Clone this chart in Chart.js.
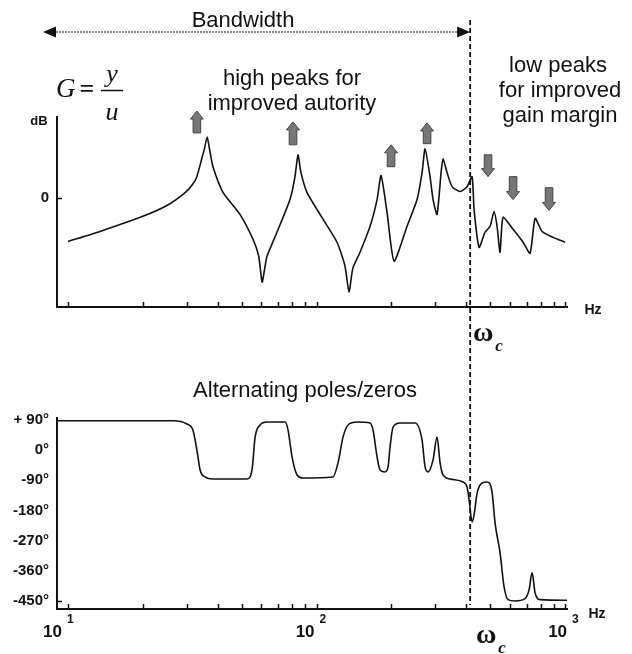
<!DOCTYPE html>
<html>
<head>
<meta charset="utf-8">
<script src="https://cdn.jsdelivr.net/npm/chart.js@4.4.1/dist/chart.umd.min.js"></script>
<style>
  html, body { margin: 0; padding: 0; background: #fff; }
  #wrap { position: relative; width: 632px; height: 654px; }
  #wrap canvas { position: absolute; left: 0; }
</style>
</head>
<body>
<div id="wrap">
  <canvas id="mag" width="632" height="372" style="top:0"></canvas>
  <canvas id="phase" width="632" height="282" style="top:372px"></canvas>
</div>
<script>
/* Bode plot: magnitude + phase of G = y/u (log Hz axis) */

// magnitude curve (Hz, dB)
const magFreq = [10, 13.45, 20, 25, 29.6, 31.8, 33, 34.6, 35.3, 36.3, 37.2, 38.3, 42.1, 49.2, 55.5, 58.5, 60.4, 62, 63.2, 69.3, 78.2, 81.9, 84.2, 86.5, 91.6,
  103.3, 120.9, 130, 135.1, 140, 149.6, 164.2, 175.2, 181.8, 192.2, 205.1, 231.3, 253.8, 265.8, 273.3, 286.2, 294.3, 305.4, 317,
  322.9, 335.1, 351, 378, 403.3, 422.5, 430.4, 450.8, 476.6, 499.2, 517.9, 532.6, 547.5, 562.9, 617.6, 677.7, 723.3,
  757.5, 808.2, 894.6, 1000];
const magDb = [-16.1, -12.4, -6.8, -2.8, 2.0, 5.2, 7.9, 14.9, 17.8, 22.6, 17.5, 11.6, 2.0, -6.1, -15.3, -21.5, -31.2, -25.5, -21.6, -12.7, -0.6, 7.9, 16.0, 9.5, 2.0,
  -6.1, -16.4, -25, -34.8, -26, -20.1, -10.5, -0.6, 8.3, -5.4, -23.4, -10.5, -0.6, 9.4, 18.2, 7.9, -0.6, -6.1, 9.4,
  14.5, 9.4, 4.2, 2.4, 4.2, 7.9, -4.3, -18.3, -12.7, -10.5, -5.0, -10.5, -20.1, -7.2, -11.6, -16.4, -20.5,
  -7.6, -12.4, -14.6, -16.4];

// phase curve (Hz, degrees)
const phaseFreq = [9.03, 26.5, 30.1, 31.8, 33.0, 34.0, 35.6, 38.3, 52.5, 55.0, 56.6, 59.3, 63.2, 74.7, 76.8, 79.7, 83.5, 88.2,
  116.5, 122.0, 127.8, 133.9, 145.6, 164.2, 168.8, 175.2, 180.1, 188.7, 194.0, 197.6, 203.2, 216.8, 249.1, 265.8,
  273.3, 281.0, 294.3, 305.4, 314.1, 322.9, 344.5, 388.6, 403.3, 411.0, 422.5, 430.4, 442.6, 463.6, 485.5, 508.4,
  522.7, 547.5, 568.3, 589.6, 629.3, 690.2, 716.4, 736.7, 757.5, 793.4, 1018];
const phaseDeg = [88, 88, 78, 60, 1, -59, -80, -86, -86, -59, 39, 75, 84, 84, 60, -20, -74, -83,
  -80, -38, 39, 75, 84, 81, 60, -20, -59, -65, -50, 10, 69, 81, 81, 30,
  -50, -65, -29, 39, -38, -74, -86, -95, -110, -148, -214, -193, -128, -98, -95, -125,
  -217, -306, -408, -446, -450, -443, -417, -366, -426, -446, -448];

// axes
const freqMin = 9.03, freqMax = 1018;
const xTickValues = [10, 20, 30, 40, 50, 60, 70, 80, 90, 100, 200, 300, 400, 500, 600, 700, 800, 900, 1000];
const decadeValues = [10, 100, 1000];
const decadeExps = ['1', '2', '3'];
const magTicks = [0];
const phaseTicks = [90, 0, -90, -180, -270, -360, -450];
const omegaC = 415;          // crossover, Hz
const bandwidthFrom = 7.93;  // left end of the bandwidth arrow, Hz

// block arrows on the magnitude plot (Hz, tail dB, tip dB)
const arrowFreq = [33.0, 80.4, 199.4, 278.4, 489.8, 617.6, 862];
const arrowFrom = [24.1, 19.7, 11.6, 20.1, 16.0, 7.9, 3.8];
const arrowTo = [32.2, 28.2, 19.7, 27.8, 7.9, -0.6, -4.6];

const ink = '#111';
const sans = "'Liberation Sans', Arial, sans-serif";
const serif = "'Liberation Serif', 'Times New Roman', serif";

function xScale() {
  return {
    type: 'logarithmic', min: freqMin, max: freqMax,
    grid: { display: false, drawTicks: false },
    border: { display: true, color: ink, width: 2 },
    ticks: { display: false },
    afterBuildTicks: (s) => { s.ticks = xTickValues.map((v) => ({ value: v })); },
  };
}

function yScale(min, max, values, fmt) {
  return {
    min, max,
    grid: { display: false, drawTicks: false },
    border: { display: true, color: ink, width: 2 },
    ticks: { color: ink, padding: 8, font: { family: sans, size: 15, weight: 'bold' }, callback: fmt },
    afterBuildTicks: (s) => { s.ticks = values.map((v) => ({ value: v })); },
    afterFit: (s) => { s.width = 57; },
  };
}

// short tick marks pointing into the plot
function innerTicks(yVals) {
  return {
    id: 'innerTicks',
    afterDraw(chart) {
      const { ctx, chartArea: a, scales: { x, y } } = chart;
      ctx.save();
      ctx.strokeStyle = ink; ctx.lineWidth = 1.5;
      ctx.beginPath();
      x.ticks.forEach((t) => {
        const px = Math.round(x.getPixelForValue(t.value)) + 0.5;
        ctx.moveTo(px, a.bottom); ctx.lineTo(px, a.bottom - 5);
      });
      yVals.forEach((v) => {
        const py = Math.round(y.getPixelForValue(v)) + 0.5;
        ctx.moveTo(a.left, py); ctx.lineTo(a.left + 5, py);
      });
      ctx.stroke();
      ctx.restore();
    },
  };
}

function dashedOmega(ctx, x, y0, y1) {
  ctx.save();
  ctx.strokeStyle = ink; ctx.lineWidth = 1.8; ctx.setLineDash([5, 3]);
  ctx.beginPath(); ctx.moveTo(x, y0); ctx.lineTo(x, y1); ctx.stroke();
  ctx.restore();
}

function omegaLabel(ctx, x, base) {
  ctx.save();
  ctx.fillStyle = ink; ctx.textBaseline = 'alphabetic';
  ctx.font = `bold 28px ${serif}`; ctx.textAlign = 'center';
  ctx.fillText('ω', x, base);
  ctx.font = `italic bold 17px ${serif}`; ctx.textAlign = 'left';
  ctx.fillText('c', x + 12, base + 10);
  ctx.restore();
}

function text(ctx, s, x, y, font, align) {
  ctx.font = font; ctx.textAlign = align || 'center'; ctx.textBaseline = 'alphabetic';
  ctx.fillText(s, x, y);
}

function blockArrow(ctx, x, yTail, yTip) {
  const dir = yTip < yTail ? -1 : 1;
  const head = 8, hw = 6.5, sw = 3.8;
  const yNeck = yTip - dir * head;
  ctx.beginPath();
  ctx.moveTo(x - sw, yTail); ctx.lineTo(x - sw, yNeck); ctx.lineTo(x - hw, yNeck);
  ctx.lineTo(x, yTip); ctx.lineTo(x + hw, yNeck); ctx.lineTo(x + sw, yNeck); ctx.lineTo(x + sw, yTail);
  ctx.closePath();
  ctx.fillStyle = '#777'; ctx.fill();
  ctx.strokeStyle = '#444'; ctx.lineWidth = 1; ctx.stroke();
}

const magNotes = {
  id: 'magNotes',
  afterDraw(chart) {
    const { ctx, scales: { x, y } } = chart;
    const xc = x.getPixelForValue(omegaC);
    dashedOmega(ctx, xc, 20, chart.height);

    // bandwidth arrow
    const xl = x.getPixelForValue(bandwidthFrom), yb = 32;
    ctx.save();
    ctx.strokeStyle = ink; ctx.lineWidth = 1.2; ctx.setLineDash([2, 1]);
    ctx.beginPath(); ctx.moveTo(xl + 10, yb); ctx.lineTo(xc - 10, yb); ctx.stroke();
    ctx.setLineDash([]); ctx.fillStyle = ink;
    ctx.beginPath(); ctx.moveTo(xl, yb); ctx.lineTo(xl + 13, yb - 5.5); ctx.lineTo(xl + 13, yb + 5.5); ctx.closePath(); ctx.fill();
    ctx.beginPath(); ctx.moveTo(xc, yb); ctx.lineTo(xc - 13, yb - 5.5); ctx.lineTo(xc - 13, yb + 5.5); ctx.closePath(); ctx.fill();

    ctx.fillStyle = ink;
    text(ctx, 'Bandwidth', 243, 27, `22px ${sans}`);
    text(ctx, 'high peaks for', 292, 85, `22px ${sans}`);
    text(ctx, 'improved autority', 292, 110, `22px ${sans}`);
    text(ctx, 'low peaks', 558, 72, `22px ${sans}`);
    text(ctx, 'for improved', 560, 97, `22px ${sans}`);
    text(ctx, 'gain margin', 560, 122, `22px ${sans}`);

    // G = y/u
    text(ctx, 'G', 56, 97, `italic 27px ${serif}`, 'left');
    text(ctx, '=', 87, 97, `bold 26px ${serif}`);
    text(ctx, 'y', 112, 82, `italic 26px ${serif}`);
    text(ctx, 'u', 112, 120, `italic 26px ${serif}`);
    ctx.lineWidth = 1.5;
    ctx.beginPath(); ctx.moveTo(101, 90.5); ctx.lineTo(123, 90.5); ctx.stroke();

    text(ctx, 'dB', 39, 125, `bold 13px ${sans}`);
    text(ctx, 'Hz', 593, 314, `bold 14px ${sans}`);
    omegaLabel(ctx, xc + 13, 341);

    arrowFreq.forEach((f, i) => {
      blockArrow(ctx, x.getPixelForValue(f), y.getPixelForValue(arrowFrom[i]), y.getPixelForValue(arrowTo[i]));
    });
    ctx.restore();
  },
};

const phaseNotes = {
  id: 'phaseNotes',
  afterDraw(chart) {
    const { ctx, chartArea: a, scales: { x } } = chart;
    const xc = x.getPixelForValue(omegaC);
    dashedOmega(ctx, xc, 0, a.bottom - 4);
    ctx.save();
    ctx.fillStyle = ink;
    text(ctx, 'Alternating poles/zeros', 305, 25, `22px ${sans}`);
    text(ctx, 'Hz', 597, 246, `bold 14px ${sans}`);
    const shift = [-5, -1, 3];
    decadeValues.forEach((v, i) => {
      const px = x.getPixelForValue(v) + shift[i];
      text(ctx, '10', px - 1, 265, `bold 17px ${sans}`, 'right');
      text(ctx, decadeExps[i], px + 4, 251, `bold 12px ${sans}`, 'left');
    });
    omegaLabel(ctx, xc + 16, 271);
    ctx.restore();
  },
};

Chart.defaults.font.family = sans;
Chart.defaults.color = ink;

new Chart(document.getElementById('mag'), {
  type: 'line',
  data: {
    datasets: [{
      data: magFreq.map((f, i) => ({ x: f, y: magDb[i] })),
      borderColor: ink, borderWidth: 1.6, pointRadius: 0, tension: 0.2,
      borderJoinStyle: 'round',
    }],
  },
  options: {
    responsive: false, animation: false, devicePixelRatio: 1,
    layout: { padding: { top: 117, right: 65, left: 0, bottom: 0 } },
    plugins: { legend: { display: false }, tooltip: { enabled: false } },
    scales: {
      x: Object.assign(xScale(), { afterFit: (s) => { s.height = 372 - 307; } }),
      y: yScale(-40.4, 30, magTicks, (v) => String(v)),
    },
  },
  plugins: [innerTicks(magTicks), magNotes],
});

new Chart(document.getElementById('phase'), {
  type: 'line',
  data: {
    datasets: [{
      data: phaseFreq.map((f, i) => ({ x: f, y: phaseDeg[i] })),
      borderColor: ink, borderWidth: 1.6, pointRadius: 0,
      cubicInterpolationMode: 'monotone',
    }],
  },
  options: {
    responsive: false, animation: false, devicePixelRatio: 1,
    layout: { padding: { top: 418 - 372, right: 65, left: 0, bottom: 0 } },
    plugins: { legend: { display: false }, tooltip: { enabled: false } },
    scales: {
      x: Object.assign(xScale(), { afterFit: (s) => { s.height = 654 - 609; } }),
      y: yScale(-474, 96, phaseTicks, (v) => (v > 0 ? '+ ' + v + '°' : v + '°')),
    },
  },
  plugins: [innerTicks([-450]), phaseNotes],
});
</script>
</body>
</html>
